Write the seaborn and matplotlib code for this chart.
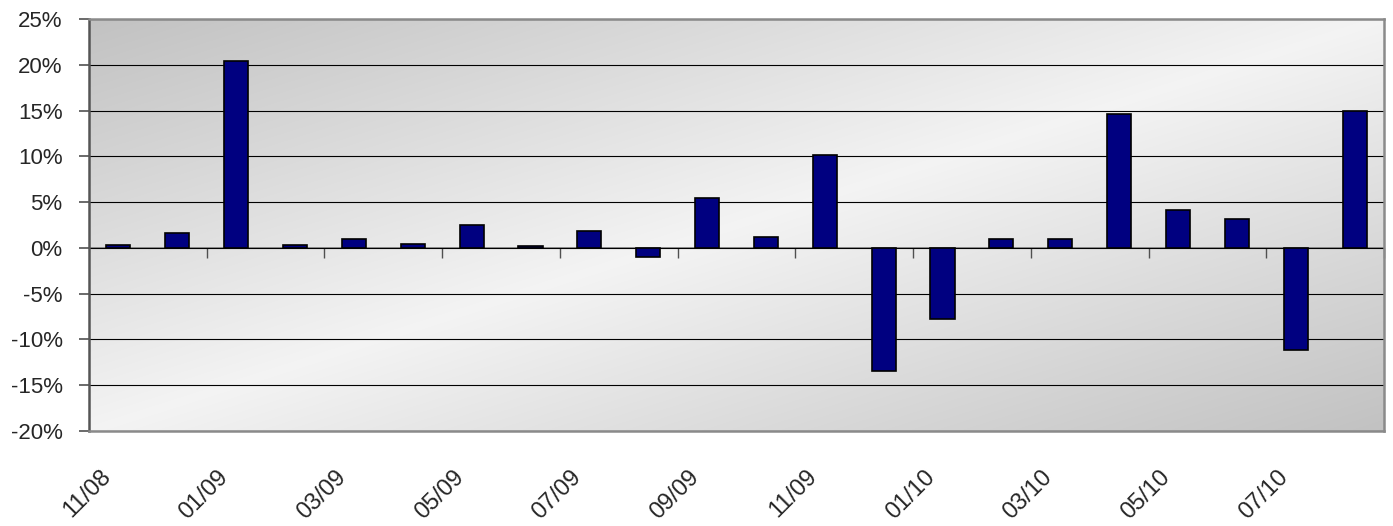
import numpy as np
import pandas as pd
import matplotlib
matplotlib.use("Agg")
import matplotlib.pyplot as plt
from matplotlib.transforms import ScaledTranslation
import seaborn as sns

# ---- data ----
months = ['11/08', '12/08', '01/09', '02/09', '03/09', '04/09', '05/09', '06/09',
          '07/09', '08/09', '09/09', '10/09', '11/09', '12/09', '01/10', '02/10',
          '03/10', '04/10', '05/10', '06/10', '07/10', '08/10']
returns = [0.3, 1.6, 20.4, 0.3, 0.95, 0.4, 2.5, 0.25,
           1.85, -1.0, 5.4, 1.15, 10.2, -13.4, -7.8, 0.95,
           0.95, 14.6, 4.1, 3.2, -11.2, 15.0]
y_ticks = [-20, -15, -10, -5, 0, 5, 10, 15, 20, 25]
y_tick_labels = [f"{v}%" for v in y_ticks]
x_tick_labels = months[::2]

sns.set_style("white")
plt.rcParams['font.family'] = ['Liberation Sans', 'DejaVu Sans']

df = pd.DataFrame({"month": months, "ret": returns})

fig = plt.figure(figsize=(13.93, 5.26), dpi=100)
ax = fig.add_axes([89 / 1393, 1 - 431 / 526, (1384 - 89) / 1393, (431 - 19) / 526])

sns.barplot(data=df, x="month", y="ret", color="#000080", saturation=1,
            width=0.41, edgecolor="black", linewidth=1.2, ax=ax, zorder=3)

ymin, ymax = y_ticks[0], y_ticks[-1]

# background gradient (dark - light - dark along diagonal)
n = 300
u = np.linspace(0, 1, n)
U, V = np.meshgrid(u, u)
t = (U + V) / 2
dark, light = 0.76, 0.955
g = dark + (light - dark) * (1 - np.abs(2 * t - 1))
img = np.dstack([g, g, g])
ax.imshow(img, extent=(0, 1, 0, 1), transform=ax.transAxes, aspect='auto',
          origin='upper', zorder=-1, interpolation='bilinear')
ax.set_xlim(-0.5, len(months) - 0.5)
ax.set_ylim(ymin, ymax)

# y axis and gridlines
ax.set_yticks(y_ticks, labels=y_tick_labels)
ax.yaxis.grid(True, color="black", linewidth=0.8)
ax.xaxis.grid(False)
ax.set_axisbelow(True)
ax.tick_params(axis='y', direction='out', length=7, width=1.2, color='#505050',
               labelsize=16, pad=12, left=True)

# category labels along the bottom of the plot area
ax.set_xticks(np.arange(0, len(months), 2))
ax.tick_params(axis='x', length=0, pad=25, bottom=False, labelsize=17)
ax.set_xticklabels(x_tick_labels, rotation=45, ha='right', va='top',
                   rotation_mode='anchor', fontsize=17)
offset = ScaledTranslation(-0.19, 0, fig.dpi_scale_trans)
for lbl in ax.get_xticklabels():
    lbl.set_transform(lbl.get_transform() + offset)
ax.set_xlabel("")
ax.set_ylabel("")

ax.spines['left'].set_color('#555555')
ax.spines['left'].set_linewidth(1.8)
for s in ['top', 'right', 'bottom']:
    ax.spines[s].set_color('#8a8a8a')
    ax.spines[s].set_linewidth(1.8)
    ax.spines[s].set_visible(True)

# horizontal axis line at zero with tick marks between category pairs
zero_frac = (0 - ymin) / (ymax - ymin)
sec = ax.secondary_xaxis(zero_frac)
sec.set_alignment('bottom')
sec.set_xticks(np.arange(1.5, len(months), 2))
sec.tick_params(axis='x', direction='out', length=7, width=1.0, color='#505050',
                labelbottom=False, labeltop=False)
sec.spines['bottom'].set_color('#808080')
sec.spines['bottom'].set_linewidth(1.2)

fig.savefig("out.png", dpi=100)
